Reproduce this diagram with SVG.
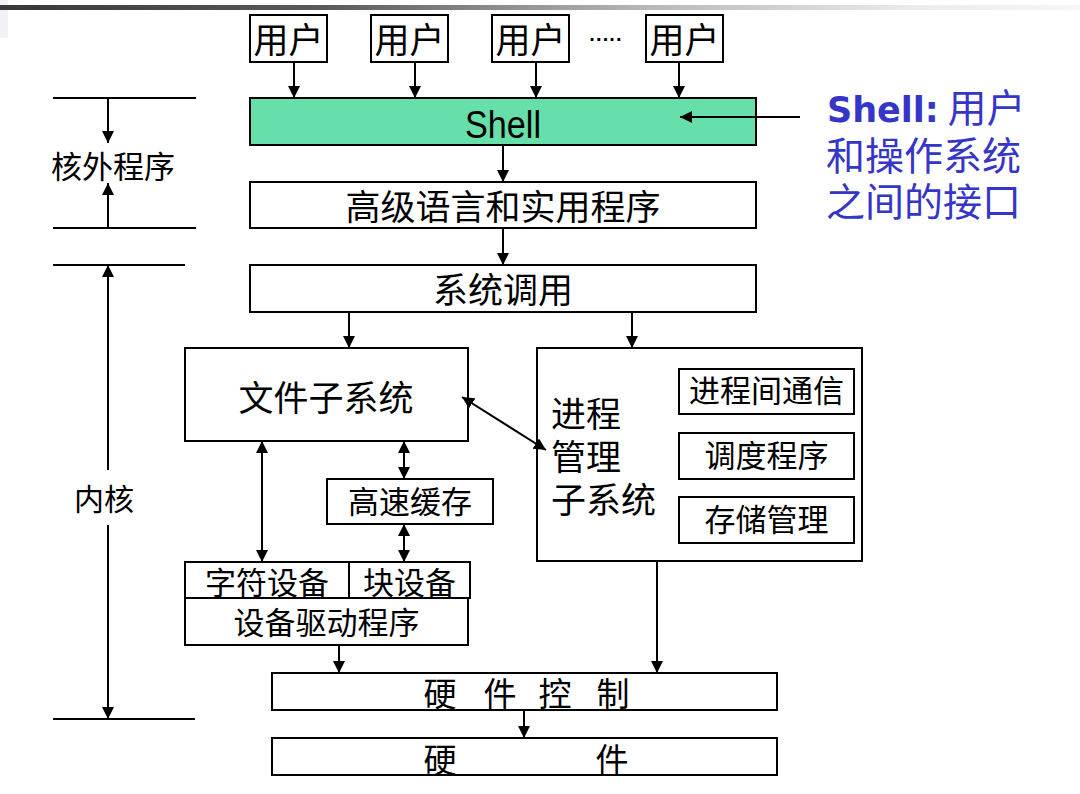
<svg xmlns="http://www.w3.org/2000/svg" width="1080" height="794" viewBox="0 0 1080 794">
<defs>
<linearGradient id="topbar" x1="0" y1="0" x2="1" y2="0">
<stop offset="0" stop-color="#383838"/>
<stop offset="0.3" stop-color="#5a5a5a"/>
<stop offset="0.6" stop-color="#b8b8b8"/>
<stop offset="0.85" stop-color="#ececec"/>
<stop offset="1" stop-color="#f6f6f6"/>
</linearGradient>
<marker id="ah" markerUnits="userSpaceOnUse" markerWidth="12" markerHeight="12" refX="12" refY="6" orient="auto-start-reverse" viewBox="0 0 12 12">
<path d="M0,0 L12,6 L0,12 z" fill="#000"/>
</marker>
</defs>
<style>
.box{fill:#fff;stroke:#000;stroke-width:2}
.cn{font-family:"Noto Sans CJK SC","Noto Sans CJK JP",sans-serif;fill:#000}
.c{stroke:#000;stroke-width:2;fill:none}
.a{marker-end:url(#ah)}
.b{marker-start:url(#ah);marker-end:url(#ah)}
.lab{font-family:"Noto Sans CJK SC",sans-serif;fill:#3535C8;font-size:39px}
</style>
<rect x="0" y="0" width="1080" height="794" fill="#fff"/>
<rect x="0" y="0" width="8" height="38" fill="#f1f1f8"/>
<rect x="0" y="5" width="1080" height="5" fill="url(#topbar)"/>

<g id="user1"><rect class="box" x="250" y="15" width="77" height="47"/><text class="cn" x="288.5" y="53" font-size="35" text-anchor="middle">用户</text></g>
<g id="user2"><rect class="box" x="371" y="15" width="77" height="47"/><text class="cn" x="409.5" y="53" font-size="35" text-anchor="middle">用户</text></g>
<g id="user3"><rect class="box" x="492" y="15" width="77" height="47"/><text class="cn" x="530.5" y="53" font-size="35" text-anchor="middle">用户</text></g>
<g id="dots"><text x="606" y="46" font-family="Liberation Sans, sans-serif" font-size="20" font-weight="bold" text-anchor="middle">·····</text></g>
<g id="user4"><rect class="box" x="646" y="15" width="77" height="47"/><text class="cn" x="684.5" y="53" font-size="35" text-anchor="middle">用户</text></g>

<g id="shell"><rect x="250" y="98" width="506" height="47" fill="#66DFAA" stroke="#000" stroke-width="2"/><text x="503" y="138" font-family="Liberation Sans, Arial, sans-serif" font-size="38" text-anchor="middle" textLength="76" lengthAdjust="spacingAndGlyphs">Shell</text></g>
<g id="hll"><rect class="box" x="250" y="182" width="506" height="46"/><text class="cn" x="503" y="220" font-size="35" text-anchor="middle">高级语言和实用程序</text></g>
<g id="syscall"><rect class="box" x="250" y="265" width="506" height="47"/><text class="cn" x="503" y="303" font-size="35" text-anchor="middle">系统调用</text></g>
<g id="fs"><rect class="box" x="185" y="348" width="283" height="93"/><text class="cn" x="326" y="411" font-size="35" text-anchor="middle">文件子系统</text></g>
<g id="pm"><rect class="box" x="537" y="348" width="325" height="213"/>
<text class="cn" font-size="35"><tspan x="551" y="427">进程</tspan><tspan x="551" y="470">管理</tspan><tspan x="551" y="513">子系统</tspan></text></g>
<g id="ipc"><rect class="box" x="679" y="369" width="175" height="45"/><text class="cn" x="766.5" y="402" font-size="31" text-anchor="middle">进程间通信</text></g>
<g id="sched"><rect class="box" x="679" y="433" width="175" height="46"/><text class="cn" x="766.5" y="467" font-size="31" text-anchor="middle">调度程序</text></g>
<g id="mem"><rect class="box" x="679" y="497" width="175" height="46"/><text class="cn" x="766.5" y="531" font-size="31" text-anchor="middle">存储管理</text></g>
<g id="cache"><rect class="box" x="327" y="479" width="166" height="45"/><text class="cn" x="410" y="513" font-size="31" text-anchor="middle">高速缓存</text></g>
<g id="chardev"><rect class="box" x="185" y="562" width="164" height="36"/><text class="cn" x="267" y="594" font-size="31" text-anchor="middle">字符设备</text></g>
<g id="blockdev"><rect class="box" x="349" y="562" width="121" height="36"/><text class="cn" x="409.5" y="594" font-size="31" text-anchor="middle">块设备</text></g>
<g id="driver"><rect class="box" x="185" y="598" width="283" height="47"/><text class="cn" x="326.5" y="634" font-size="31" text-anchor="middle">设备驱动程序</text></g>
<g id="hwctl"><rect class="box" x="272" y="673" width="505" height="37"/><text class="cn" x="440 500 555 613" y="706" font-size="33" text-anchor="middle">硬件控制</text></g>
<g id="hw"><rect class="box" x="272" y="738" width="505" height="37"/><text class="cn" x="440 612" y="772" font-size="33" text-anchor="middle">硬件</text></g>

<g id="side-outer">
<line class="c" x1="53" y1="98" x2="196" y2="98"/>
<line class="c" x1="53" y1="228" x2="196" y2="228"/>
<text class="cn" x="113" y="178" font-size="31" text-anchor="middle">核外程序</text>
</g>
<g id="side-kernel">
<line class="c" x1="53" y1="265" x2="185" y2="265"/>
<line class="c" x1="53" y1="719" x2="195" y2="719"/>
<text class="cn" x="104" y="510" font-size="30" text-anchor="middle">内核</text>
</g>

<g id="shell-label">
<text class="lab"><tspan x="827" y="122"><tspan font-family="DejaVu Sans, Verdana, sans-serif" font-weight="bold" font-size="35">Shell:</tspan> 用户</tspan><tspan x="826" y="170">和操作系统</tspan><tspan x="826" y="216">之间的接口</tspan></text>
</g>

<g id="connectors">
<line class="c a" x1="294" y1="62" x2="294" y2="98"/>
<line class="c a" x1="415" y1="62" x2="415" y2="98"/>
<line class="c a" x1="536" y1="62" x2="536" y2="98"/>
<line class="c a" x1="679" y1="62" x2="679" y2="98"/>
<line class="c a" x1="800" y1="117" x2="680" y2="117"/>
<line class="c a" x1="503" y1="145" x2="503" y2="182"/>
<line class="c a" x1="503" y1="228" x2="503" y2="265"/>
<line class="c a" x1="349" y1="312" x2="349" y2="348"/>
<line class="c a" x1="632" y1="312" x2="632" y2="348"/>
<line class="c b" x1="462" y1="397" x2="546" y2="450"/>
<line class="c b" x1="262" y1="441" x2="262" y2="562"/>
<line class="c b" x1="404" y1="441" x2="404" y2="479"/>
<line class="c b" x1="404" y1="524" x2="404" y2="562"/>
<line class="c a" x1="339" y1="645" x2="339" y2="673"/>
<line class="c a" x1="657" y1="561" x2="657" y2="673"/>
<line class="c a" x1="524" y1="710" x2="524" y2="738"/>
<line class="c a" x1="108" y1="98" x2="108" y2="143"/>
<line class="c a" x1="108" y1="228" x2="108" y2="183"/>
<line class="c a" x1="108" y1="470" x2="108" y2="265"/>
<line class="c a" x1="108" y1="525" x2="108" y2="719"/>
</g>
</svg>
